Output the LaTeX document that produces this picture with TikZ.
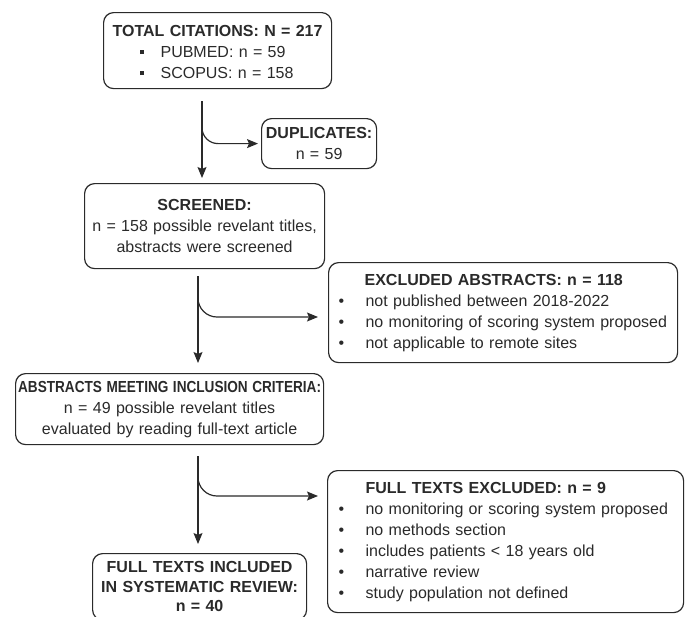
\documentclass[tikz,border=0pt]{standalone}
\usepackage{graphicx}
\usepackage{fontspec}
\setmainfont{Liberation Sans}
\usetikzlibrary{arrows.meta}
\definecolor{ink}{HTML}{2A2A2A}
\newcommand\sqb{\rule[3.5pt]{4.2pt}{4.2pt}}
\newcommand\bitem[2]{\hspace*{#1}\makebox[27pt][l]{•}#2}
\begin{document}
\begin{tikzpicture}[x=1pt,y=-1pt,
  font=\fontsize{16}{21}\selectfont,
  box/.style={draw=ink, line width=1.2pt, rounded corners=10pt, anchor=north west,
    inner xsep=0pt, inner ysep=0pt, text=ink},
  arr/.style={draw=ink, line width=1.2pt, -{Stealth[length=11pt,width=9pt,inset=2pt]}}]
\useasboundingbox (0,0) rectangle (688,616);

\node[box, text width=228pt, minimum height=76pt, align=left] (tot) at (103,12)
  {\rule{0pt}{14pt}\hspace*{9pt}\textbf{TOTAL CITATIONS: N = 217}\\
   \hspace*{36pt}\makebox[21pt][l]{\sqb}PUBMED: n = 59\\
   \hspace*{36pt}\makebox[21pt][l]{\sqb}SCOPUS: n = 158};

\node[box, text width=115pt, minimum height=50pt, align=center] (dup) at (261,118)
  {\textbf{DUPLICATES:}\\ n = 59};

\node[box, text width=240pt, minimum height=85pt, align=center] (scr) at (84,183)
  {\textbf{SCREENED:}\\ n = 158 possible revelant titles,\\ abstracts were screened};

\node[box, text width=349pt, minimum height=100pt, align=left] (exa) at (328,262)
  {\hspace*{36pt}\textbf{EXCLUDED ABSTRACTS: n = 118}\\
   \bitem{10pt}{not published between 2018-2022}\\
   \bitem{10pt}{no monitoring of scoring system proposed}\\
   \bitem{10pt}{not applicable to remote sites}};

\node[box, text width=308pt, minimum height=71pt, align=center] (meet) at (15,373)
  {\scalebox{0.85}[1]{\textbf{ABSTRACTS MEETING INCLUSION CRITERIA:}}\\ n = 49 possible revelant titles\\ evaluated by reading full-text article};

\node[box, text width=356pt, minimum height=142pt, align=left] (fte) at (327,470)
  {\hspace*{38pt}\textbf{FULL TEXTS EXCLUDED: n = 9}\\
   \bitem{11pt}{no monitoring or scoring system proposed}\\
   \bitem{11pt}{no methods section}\\
   \bitem{11pt}{includes patients < 18 years old}\\
   \bitem{11pt}{narrative review}\\
   \bitem{11pt}{study population not defined}};

\node[box, text width=214pt, inner ysep=8pt, align=center, font=\fontsize{16}{19.5}\selectfont\bfseries] (inc) at (92,553)
  {FULL TEXTS INCLUDED\\ IN SYSTEMATIC REVIEW:\\ n = 40};

% connectors
\coordinate (L1) at (202,0);
\coordinate (L2) at (198,0);
\coordinate (h2) at (0,317);
\coordinate (h3) at (0,496);

\draw[arr, shorten <=12pt, shorten >=5pt] (tot.south -| L1) -- (scr.north -| L1);
\draw[arr, rounded corners=16pt, shorten >=3pt] ([yshift=-39pt]tot.south -| L1) |- (dup.west);

\draw[arr, shorten <=7pt, shorten >=10pt] (scr.south -| L2) -- (meet.north -| L2);
\draw[arr, rounded corners=19pt, shorten >=10pt] ([yshift=-30pt]scr.south -| L2) |- (exa.west |- h2);

\draw[arr, shorten <=11pt, shorten >=9pt] (meet.south -| L2) -- (inc.north -| L2);
\draw[arr, rounded corners=19pt, shorten >=9pt] ([yshift=-33pt]meet.south -| L2) |- (fte.west |- h3);
\end{tikzpicture}
\end{document}
